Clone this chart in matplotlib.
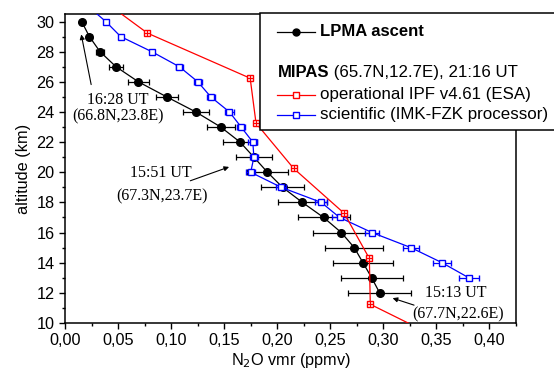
import matplotlib
matplotlib.use("Agg")
import matplotlib.pyplot as plt
from matplotlib.ticker import MultipleLocator, FuncFormatter
from matplotlib.patches import Rectangle
from matplotlib.lines import Line2D

plt.rcParams['font.family'] = ['Liberation Sans', 'DejaVu Sans']

# LPMA ascent (balloon)
lpma_alt = [30, 29, 28, 27, 26, 25, 24, 23, 22, 21, 20, 19, 18, 17, 16, 15, 14, 13, 12]
lpma_vmr = [0.0157, 0.0230, 0.0330, 0.0481, 0.0692, 0.0959, 0.1233, 0.1468, 0.1650,
            0.1780, 0.1908, 0.2050, 0.2237, 0.2437, 0.2604, 0.2726, 0.2808, 0.2890, 0.2965]
lpma_err = [0.001, 0.002, 0.004, 0.0068, 0.0099, 0.0102, 0.0121, 0.013, 0.0163,
            0.0173, 0.0192, 0.0204, 0.0228, 0.0244, 0.0267, 0.0275, 0.0283, 0.0292, 0.0299]

# MIPAS scientific (IMK-FZK)
sci_alt = [31, 30, 29, 28, 27, 26, 25, 24, 23, 22, 21, 20, 19, 18, 17, 16, 15, 14, 13]
sci_vmr = [0.022, 0.0384, 0.0525, 0.0818, 0.1078, 0.1252, 0.1374, 0.155, 0.166, 0.177,
           0.178, 0.175, 0.2038, 0.2415, 0.2588, 0.2893, 0.326, 0.3553, 0.3805]
sci_err = [0.0, 0.002, 0.002, 0.002, 0.003, 0.004, 0.004, 0.004, 0.004, 0.0042,
           0.004, 0.004, 0.0045, 0.0058, 0.0072, 0.0066, 0.0074, 0.0083, 0.0093]

# MIPAS operational IPF v4.61 (ESA)
ops_alt = [32.2, 29.23, 26.24, 23.26, 20.26, 17.27, 14.28, 11.24, 8.2]
ops_vmr = [0.0204, 0.0777, 0.1745, 0.180, 0.2154, 0.2632, 0.2868, 0.2877, 0.375]

W, H = 554, 370
fig = plt.figure(figsize=(W / 100, H / 100), dpi=100)
ax = fig.add_axes([65 / W, 1 - 323 / H, (516 - 65) / W, (323 - 14) / H])

ax.errorbar(lpma_vmr, lpma_alt, xerr=lpma_err, color='black', lw=0.9, marker='o',
            ms=5.5, mfc='black', mec='black', ecolor='black', elinewidth=0.9,
            capsize=2.5, capthick=0.9, zorder=3)
ax.errorbar(sci_vmr, sci_alt, xerr=sci_err, color='blue', lw=0.9, marker='s',
            ms=5, mfc='white', mec='blue', mew=1.0, ecolor='blue', elinewidth=0.9,
            capsize=2.5, capthick=0.9, zorder=4)
ax.plot(ops_vmr, ops_alt, color='red', lw=0.9, marker='s', ms=5, mfc='white',
        mec='red', mew=1.0, zorder=5)
ax.plot(ops_vmr, ops_alt, ls='none', marker='+', ms=5, mec='red', mew=0.9, zorder=6)

ax.set_xlim(0, 0.425)
ax.set_ylim(10, 30.5)
ax.xaxis.set_major_locator(MultipleLocator(0.05))
ax.xaxis.set_minor_locator(MultipleLocator(0.025))
ax.yaxis.set_major_locator(MultipleLocator(2))
ax.yaxis.set_minor_locator(MultipleLocator(1))
ax.xaxis.set_major_formatter(FuncFormatter(lambda v, p: f"{v:.2f}".replace('.', ',')))
ax.tick_params(which='both', direction='out', top=False, right=False, labelsize=11.7,
               width=1.0)
ax.tick_params(which='major', length=4)
ax.tick_params(which='minor', length=2.5)
for s in ax.spines.values():
    s.set_linewidth(1.1)

ax.set_xlabel('N$_2$O vmr (ppmv)', fontsize=11.7, labelpad=1.5)
ax.set_ylabel('altitude (km)', fontsize=11.7, labelpad=4)

serif = dict(family=['Liberation Serif', 'DejaVu Serif'], fontsize=11.5, ha='center',
             va='center', multialignment='center', linespacing=1.0)
arrow = dict(arrowstyle='-|>', color='black', lw=0.8, mutation_scale=7)


def px(x, y):
    return (x / W, 1 - y / H)


fig.text(*px(118, 108.5), '16:28 UT\n(66.8N,23.8E)', **serif)
ax.annotate('', xy=px(80.7, 31.7), xytext=px(91.7, 87.3), xycoords='figure fraction',
            textcoords='figure fraction', arrowprops=arrow)

fig.text(*px(160.5, 173), '15:51 UT', **serif)
fig.text(*px(162, 196.5), '(67.3N,23.7E)', **serif)
ax.annotate('', xy=px(231.7, 166), xytext=px(187.7, 181.7), xycoords='figure fraction',
            textcoords='figure fraction', arrowprops=arrow)

fig.text(*px(456, 293), '15:13 UT', **serif)
fig.text(*px(458.5, 314), '(67.7N,22.6E)', **serif)
ax.annotate('', xy=px(390, 297.3), xytext=px(416.7, 306), xycoords='figure fraction',
            textcoords='figure fraction', arrowprops=arrow)

# legend box
fig.add_artist(Rectangle(px(260, 130), (W + 5 - 260) / W, (130 - 13.3) / H,
                         transform=fig.transFigure, facecolor='white', edgecolor='black',
                         lw=1.1, zorder=10))


def sample(y, color, marker, mfc):
    fig.add_artist(Line2D([276.7 / W, 315 / W], [1 - y / H] * 2, color=color, lw=0.9,
                          zorder=11))
    fig.add_artist(Line2D([295.8 / W], [1 - y / H], color=color, marker=marker, ms=5,
                          mfc=mfc, mec=color, zorder=12))


LFS = 12.2
sample(31.7, 'black', 'o', 'black')
fig.text(*px(320, 31.7), 'LPMA ascent', fontsize=12, fontweight='bold', va='center',
         zorder=12)
t = fig.text(*px(277.5, 72.7), 'MIPAS', fontsize=12, fontweight='bold', va='center',
             zorder=12)
fig.canvas.draw()
bb = t.get_window_extent()
fig.text(bb.x1 / W, 1 - 72.7 / H, ' (65.7N,12.7E), 21:16 UT', fontsize=LFS, va='center',
         zorder=12)
sample(95, 'red', 's', 'white')
fig.text(*px(320, 95), 'operational IPF v4.61 (ESA)', fontsize=LFS, va='center', zorder=12)
sample(115, 'blue', 's', 'white')
fig.text(*px(320, 115), 'scientific (IMK-FZK processor)', fontsize=LFS, va='center',
         zorder=12)

fig.savefig('out.png', dpi=100)
